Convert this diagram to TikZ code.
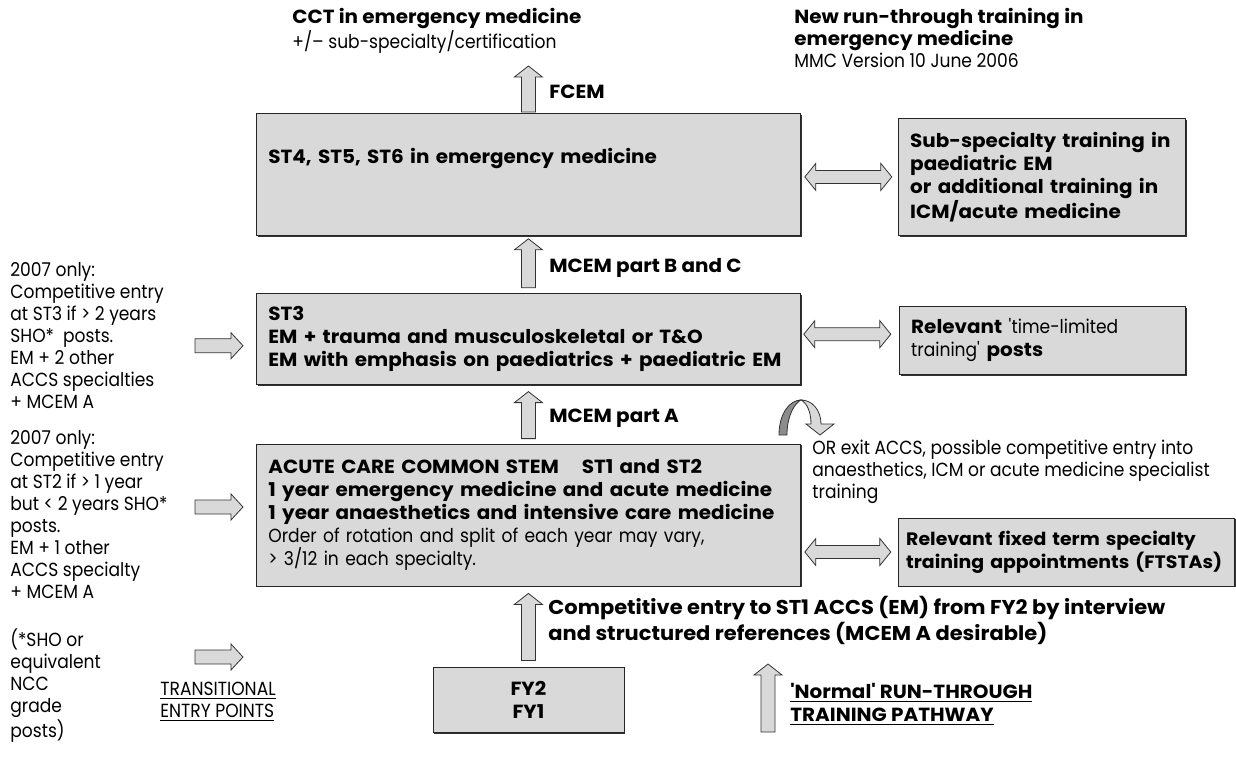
\documentclass[tikz,border=0pt]{standalone}
\usepackage{fontspec}
\setmainfont[UprightFeatures={FakeStretch=0.9}, BoldFeatures={FakeStretch=1.05}]{Poppins}
\usepackage{tikz}
\usetikzlibrary{calc,positioning,shadows}
\tikzset{
   arrow shaft/.store in=\arrshaft,
   arrow head/.store in=\arrhead,
   arrow head length/.store in=\arrheadlen,
   arrow shaft=3.5pt, arrow head=7pt, arrow head length=5.5pt,
   fat arrow/.style={draw=black!80, fill=black!15, line width=0.4pt,
     to path={let \p1=($(\tikztotarget)!\arrheadlen!(\tikztostart)$) in
       ($(\tikztostart)!\arrshaft!90:(\tikztotarget)$)
       -- ($(\p1)!\arrshaft!-90:(\tikztostart)$)
       -- ($(\p1)!\arrhead!-90:(\tikztostart)$)
       -- (\tikztotarget)
       -- ($(\p1)!\arrhead!90:(\tikztostart)$)
       -- ($(\p1)!\arrshaft!90:(\tikztostart)$)
       -- ($(\tikztostart)!\arrshaft!-90:(\tikztotarget)$) -- cycle}
   },
   fat double arrow/.style={draw=black!80, fill=black!15, line width=0.4pt,
     to path={let \p1=($(\tikztotarget)!\arrheadlen!(\tikztostart)$),
                  \p2=($(\tikztostart)!\arrheadlen!(\tikztotarget)$) in
       (\tikztostart)
       -- ($(\p2)!\arrhead!90:(\tikztotarget)$)
       -- ($(\p2)!\arrshaft!90:(\tikztotarget)$)
       -- ($(\p1)!\arrshaft!-90:(\tikztostart)$)
       -- ($(\p1)!\arrhead!-90:(\tikztostart)$)
       -- (\tikztotarget)
       -- ($(\p1)!\arrhead!90:(\tikztostart)$)
       -- ($(\p1)!\arrshaft!90:(\tikztostart)$)
       -- ($(\p2)!\arrshaft!-90:(\tikztotarget)$)
       -- ($(\p2)!\arrhead!-90:(\tikztotarget)$) -- cycle}
   }
}

\begin{document}
\begin{tikzpicture}[x=0.5pt, y=-0.5pt, font=\fontsize{9.5}{11}\selectfont]
  \tikzstyle{box} = [draw=black!85, thin, fill=black!15, drop shadow={shadow xshift=0.7pt, shadow yshift=-0.7pt, fill=black!80, opacity=1}, inner xsep=6pt, inner ysep=3pt, align=left, font={\fontsize{9.5}{11.5}\selectfont\bfseries}]
  \tikzstyle{note} = [inner sep=0pt, align=left, anchor=north west]
  \tikzstyle{arrowLabel} = [note, font={\fontsize{9.5}{11.5}\selectfont\bfseries}]
  \tikzstyle{vertArrow} = [fat arrow, arrow shaft=3.5pt, arrow head=7pt, arrow head length=5.5pt]
  \tikzstyle{sideArrow} = [fat double arrow, arrow shaft=3.25pt, arrow head=6.75pt, arrow head length=5.5pt]
  \tikzstyle{entryArrow} = [fat arrow, arrow shaft=3.5pt, arrow head=6.5pt, arrow head length=6pt]

  \useasboundingbox (0,0) rectangle (1236,766);

  % main column
  \node[box, name=st4, anchor=north west, text width=260pt, minimum height=61pt, text depth=19pt] at (256,113) {ST4, ST5, ST6 in emergency medicine};
  \node[box, name=st3, below=28.5pt of st4, text width=260pt, minimum height=45.5pt] {ST3\\EM + trauma and musculoskeletal or T\&O\\EM with emphasis on paediatrics + paediatric EM\par\vspace{4pt}};
  \node[box, name=accs, below=29.5pt of st3, text width=260pt, minimum height=71pt] {ACUTE CARE COMMON STEM\hspace{1.2em}ST1 and ST2\\1 year emergency medicine and acute medicine\\1 year anaesthetics and intensive care medicine\\\mdseries Order of rotation and split of each year may vary,\\> 3/12 in each specialty.\par\vspace{4pt}};
  \node[box, name=fy2, below=40.5pt of accs, align=center, minimum width=95.5pt, minimum height=32.5pt] {FY2\\FY1};

  % side column
  \node[box, name=sub, anchor=south west, text width=131.5pt, minimum height=58.5pt] at ([xshift=48.5pt]st4.south east) {Sub-specialty training in\\paediatric EM\\or additional training in\\ICM/acute medicine};
  \node[box, name=rel, anchor=west, text width=131pt, minimum height=34pt, font=\fontsize{9.5}{11.5}\selectfont] at ([xshift=49pt,yshift=-0.75pt]st3.east) {\textbf{Relevant} \textquotesingle time-limited\\training\textquotesingle\ \textbf{posts}};
  \node[box, name=ftsta, anchor=south west, inner xsep=4pt, text width=160pt, minimum height=34pt, font=\fontsize{9}{11.5}\selectfont\bfseries] at ([xshift=48.5pt]accs.south east) {\hyphenpenalty=10000\relax Relevant fixed term specialty\\training appointments (FTSTAs)};

  % texts
  \node[note, name=cct] at (292,8) {\textbf{CCT in emergency medicine}\\+/– sub-specialty/certification};
  \node[note, name=title] at (794,8) {\textbf{New run-through training in}\\\textbf{emergency medicine}\\MMC Version 10 June 2006};
  \node[note, name=st3entry] at (10,262) {2007 only:\\Competitive entry\\at ST3 if > 2 years\\SHO*\ \ posts.\\EM + 2 other\\ACCS specialties\\+ MCEM A};
  \node[note, name=st2entry] at (10,430) {2007 only:\\Competitive entry\\at ST2 if > 1 year\\but < 2 years SHO*\\posts.\\EM + 1 other\\ACCS specialty\\+ MCEM A};
  \node[note, name=footnote] at (10,628) {(*SHO or\\equivalent\\NCC\\grade\\posts)};
  \node[arrowLabel, anchor=west, name=fcem] at (549,92) {FCEM};
  \node[arrowLabel, anchor=west, name=mcemb] at (549,268) {MCEM part B and C};
  \node[arrowLabel, anchor=west, name=mcema] at (549,418) {MCEM part A};
  \node[arrowLabel, name=compentry, font=\fontsize{10}{11.5}\selectfont\bfseries] at (548,596) {Competitive entry to ST1 ACCS (EM) from FY2 by interview\\and structured references (MCEM A desirable)};
  \node[note, name=orexit] at (812,440) {OR exit ACCS, possible competitive entry into\\anaesthetics, ICM or acute medicine specialist\\training};
  \node[arrowLabel, name=normal] at (790,683) {\underline{\textquotesingle Normal\textquotesingle\ RUN-THROUGH}\\\underline{TRAINING PATHWAY}};
  \node[note, name=transit] at (160,682) {\underline{TRANSITIONAL}\\\underline{ENTRY POINTS}};

  % arrow ends
  \coordinate (fcem bottom) at ([yshift=0.5pt]st4.north);
  \coordinate (fcem top) at ([yshift=23.5pt]st4.north);
  \coordinate (mcemb bottom) at ([yshift=2.5pt]st3.north);
  \coordinate (mcemb top) at ([yshift=-1.5pt]st4.south);
  \coordinate (mcema bottom) at ([yshift=2.5pt]accs.north);
  \coordinate (mcema top) at ([yshift=-3.5pt]st3.south);
  \coordinate (comp bottom) at ([yshift=3.5pt]fy2.north);
  \coordinate (comp top) at ([yshift=-3.5pt]accs.south);
  \coordinate (normal bottom) at (768,732);
  \coordinate (normal top) at (768,664);
  \coordinate (sub right) at ([xshift=-3pt]sub.west);
  \coordinate (sub left) at ([xshift=2pt]sub right -| st4.east);
  \coordinate (rel right) at ([xshift=-4pt,yshift=3pt]rel.west);
  \coordinate (rel left) at ([xshift=1.5pt]rel right -| st3.east);
  \coordinate (ftsta right) at ([xshift=-3.5pt]ftsta.west);
  \coordinate (ftsta left) at ([xshift=2pt]ftsta right -| accs.east);
  \coordinate (st3 tip) at ([xshift=-6.5pt,yshift=-3.5pt]st3.west);
  \coordinate (st3 tail) at ([xshift=-24pt]st3 tip);
  \coordinate (accs tip) at ([xshift=-6.5pt,yshift=4pt]accs.west);
  \coordinate (accs tail) at ([xshift=-24pt]accs tip);
  \coordinate (transit tip) at (243,657);
  \coordinate (transit tail) at (195,657);

  \draw[vertArrow] (fcem bottom) to (fcem top);
  \draw[vertArrow] (mcemb bottom) to (mcemb top);
  \draw[vertArrow] (mcema bottom) to (mcema top);
  \draw[vertArrow] (comp bottom) to (comp top);
  \draw[vertArrow] (normal bottom) to (normal top);
  \draw[sideArrow] (sub left) to (sub right);
  \draw[sideArrow] (rel left) to (rel right);
  \draw[sideArrow] (ftsta left) to (ftsta right);
  \draw[entryArrow] (st3 tail) to (st3 tip);
  \draw[entryArrow] (accs tail) to (accs tip);
  \draw[entryArrow] (transit tail) to (transit tip);

  % exit arrow
  \filldraw[fill=black!45, draw=black!80, line width=0.4pt] (779,435) .. controls (779,413) and (790,400) .. (801,400) .. controls (795,403) and (787,415) .. (787,435) -- cycle;
  \filldraw[fill=black!15, draw=black!80, line width=0.4pt] (801,400) .. controls (812,400) and (821,410) .. (821,424) -- (834,424) -- (820,435) -- (806,424) -- (811,424) .. controls (811,412) and (807,403) .. (801,400) -- cycle;
\end{tikzpicture}
\end{document}
